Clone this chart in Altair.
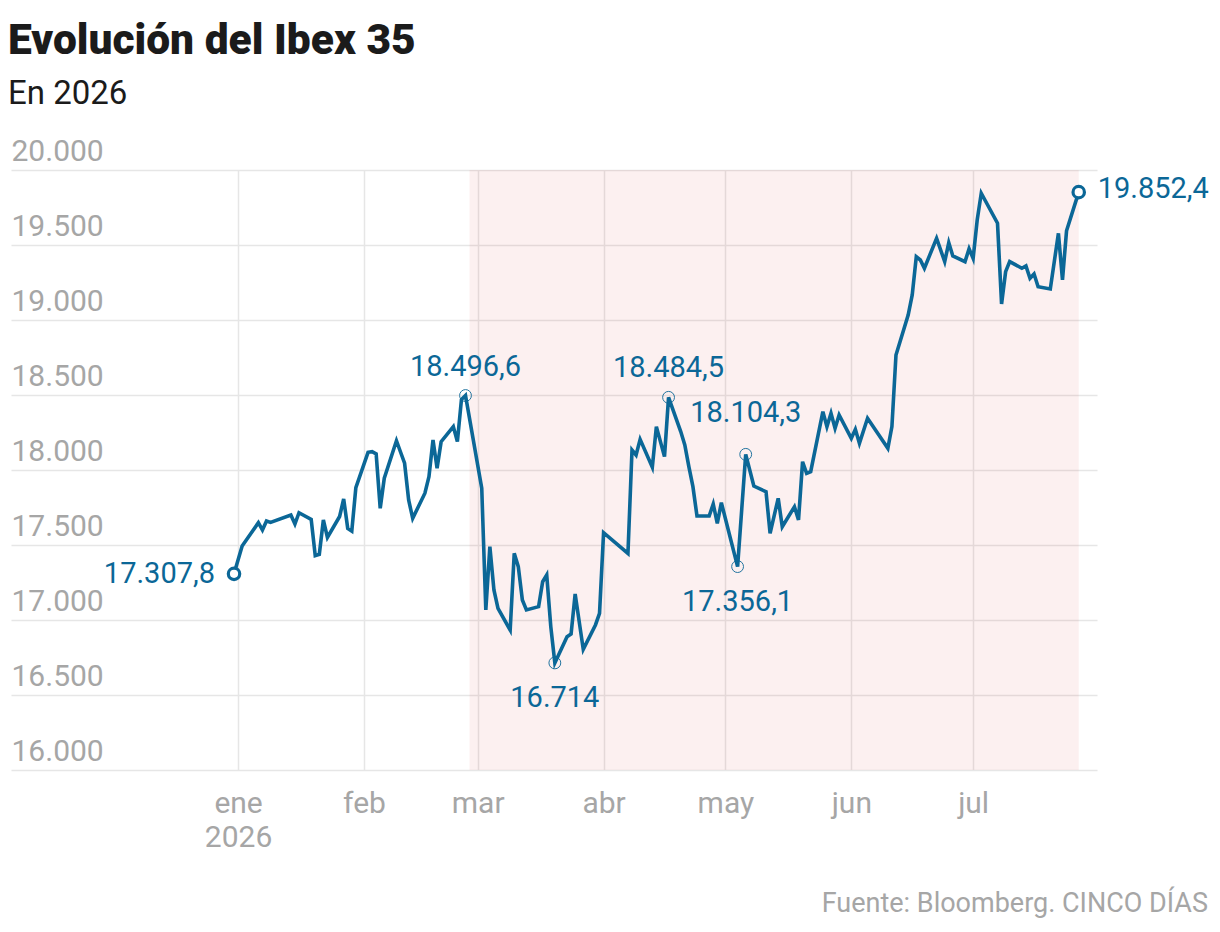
import altair as alt
import pandas as pd

# Ibex 35 daily closes, 2026 (last close of 2025 as the starting point)
dates = [
    "2025-12-31", "2026-01-02", "2026-01-06", "2026-01-07", "2026-01-08", "2026-01-09",
    "2026-01-14", "2026-01-15", "2026-01-16", "2026-01-19", "2026-01-20", "2026-01-21",
    "2026-01-22", "2026-01-23", "2026-01-26", "2026-01-27", "2026-01-28", "2026-01-29",
    "2026-01-30", "2026-02-02", "2026-02-03", "2026-02-04", "2026-02-05", "2026-02-06",
    "2026-02-09", "2026-02-10", "2026-02-11", "2026-02-12", "2026-02-13", "2026-02-16",
    "2026-02-17", "2026-02-18", "2026-02-19", "2026-02-20", "2026-02-23", "2026-02-24",
    "2026-02-25", "2026-02-26", "2026-03-02", "2026-03-03", "2026-03-04", "2026-03-05",
    "2026-03-06", "2026-03-09", "2026-03-10", "2026-03-11", "2026-03-12", "2026-03-13",
    "2026-03-16", "2026-03-17", "2026-03-18", "2026-03-19", "2026-03-20", "2026-03-23",
    "2026-03-24", "2026-03-25", "2026-03-27", "2026-03-30", "2026-03-31", "2026-04-01",
    "2026-04-07", "2026-04-08", "2026-04-09", "2026-04-10", "2026-04-13", "2026-04-14",
    "2026-04-16", "2026-04-17", "2026-04-20", "2026-04-21", "2026-04-22", "2026-04-23",
    "2026-04-24", "2026-04-27", "2026-04-28", "2026-04-29", "2026-04-30", "2026-05-04",
    "2026-05-06", "2026-05-08", "2026-05-11", "2026-05-12", "2026-05-14", "2026-05-15",
    "2026-05-18", "2026-05-19", "2026-05-20", "2026-05-21", "2026-05-22", "2026-05-25",
    "2026-05-26", "2026-05-27", "2026-05-28", "2026-05-29", "2026-06-01", "2026-06-02",
    "2026-06-03", "2026-06-05", "2026-06-10", "2026-06-11", "2026-06-12", "2026-06-15",
    "2026-06-16", "2026-06-17", "2026-06-18", "2026-06-19", "2026-06-22", "2026-06-24",
    "2026-06-25", "2026-06-26", "2026-06-29", "2026-06-30", "2026-07-01", "2026-07-02",
    "2026-07-03", "2026-07-07", "2026-07-08", "2026-07-09", "2026-07-10", "2026-07-13",
    "2026-07-14", "2026-07-15", "2026-07-16", "2026-07-17", "2026-07-20", "2026-07-22",
    "2026-07-23", "2026-07-24", "2026-07-27",
]
closes = [
    17307.8, 17493, 17649, 17600, 17660, 17651,
    17700, 17640, 17715, 17671, 17429, 17438,
    17667, 17551, 17690, 17807, 17611, 17593,
    17882, 18118, 18122, 18107, 17745, 17945,
    18195, 18120, 18045, 17800, 17678, 17845,
    17955, 18200, 18011, 18189, 18289, 18189,
    18470, 18496.6, 17878, 17067, 17489, 17200,
    17078, 16933, 17444, 17356, 17133, 17067,
    17089, 17255, 17300, 16956, 16714, 16889,
    16907, 17173, 16804, 16967, 17044, 17582,
    17444, 18133, 18100, 18204, 18018, 18289,
    18089, 18484.5, 18256, 18167, 18022, 17889,
    17693, 17693, 17773, 17644, 17782, 17356.1,
    18104.3, 17893, 17855, 17578, 17811, 17622,
    17755, 17667, 18055, 17978, 17989, 18389,
    18289, 18378, 18278, 18367, 18211, 18271,
    18178, 18345, 18145, 18289, 18767, 19033,
    19167, 19422, 19400, 19345, 19545, 19389,
    19515, 19427, 19389, 19475, 19411, 19667,
    19845, 19645, 19107, 19322, 19389, 19345,
    19360, 19278, 19307, 19222, 19207, 19578,
    19267, 19595, 19852.4,
]

# Highlighted turning points and where their labels sit
note_dates = ["2026-02-26", "2026-03-20", "2026-04-17", "2026-05-04", "2026-05-06"]
note_places = ["above", "below", "above", "below", "above_far"]

# Shaded period
shade_from = ["2026-02-27"]
shade_to = ["2026-07-27"]

y_ticks = [16000, 16500, 17000, 17500, 18000, 18500, 19000, 19500, 20000]
month_names = ["ene", "feb", "mar", "abr", "may", "jun", "jul", "ago", "sep", "oct", "nov", "dic"]
source_text = "Fuente: Bloomberg. CINCO DÍAS"

BLUE = "#0b6797"
GREY = "#a6a6a6"
GRID = "#e6e6e6"
FONT = "Roboto"


def es_number(v):
    s = f"{v:,.1f}".replace(",", "_").replace(".", ",").replace("_", ".")
    return s[:-2] if s.endswith(",0") else s


series = pd.DataFrame({"fecha": dates, "cierre": closes})
by_date = dict(zip(dates, closes))

notes = pd.DataFrame({
    "fecha": note_dates,
    "cierre": [by_date[d] for d in note_dates],
    "pos": note_places,
})
notes["etiqueta"] = notes["cierre"].map(es_number)

ends = pd.DataFrame({
    "fecha": [dates[0], dates[-1]],
    "cierre": [closes[0], closes[-1]],
    "pos": ["left", "right"],
})
ends["etiqueta"] = ends["cierre"].map(es_number)

shade = pd.DataFrame({"inicio": shade_from, "fin": shade_to,
                      "techo": [y_ticks[-1]], "suelo": [y_ticks[0]]})
source = pd.DataFrame({"t": [source_text]})

month_expr = "[" + ",".join(f"'{m}'" for m in month_names) + "]"
x_label_expr = (
    "utcmonth(datum.value) == 0 ? ['ene', '' + utcyear(datum.value)] : "
    + month_expr + "[utcmonth(datum.value)]"
)

x_scale = alt.Scale(
    type="utc",
    domain=[
        alt.DateTime(year=2025, month=11, date=6, hours=2, utc=True),
        alt.DateTime(year=2026, month=7, date=31, hours=12, utc=True),
    ],
)
x_axis = alt.Axis(
    values=[alt.DateTime(year=2026, month=m, date=1, utc=True) for m in range(1, 8)],
    labelExpr=x_label_expr,
    title=None,
    domain=False,
    ticks=False,
    tickSize=0,
    grid=True,
    gridColor=GRID,
    gridWidth=1.5,
    labelFont=FONT,
    labelFontSize=30,
    labelColor=GREY,
    labelBaseline="alphabetic",
    labelPadding=42,
    labelLineHeight=34,
    labelFlush=False,
    labelOverlap=False,
)
y_scale = alt.Scale(domain=[y_ticks[0], y_ticks[-1]], nice=False, zero=False)
y_axis = alt.Axis(
    values=y_ticks,
    labelExpr="replace(format(datum.value, ','), ',', '.')",
    title=None,
    domain=False,
    ticks=False,
    tickSize=0,
    grid=True,
    gridColor=GRID,
    gridWidth=1.5,
    labelFont=FONT,
    labelFontSize=30,
    labelColor=GREY,
    labelAlign="left",
    labelBaseline="alphabetic",
    labelPadding=0,
    labelOffset=-10,
    labelOverlap=False,
)


def X(field="fecha"):
    return alt.X(f"{field}:T", scale=x_scale, axis=x_axis)


def Y(field="cierre"):
    return alt.Y(f"{field}:Q", scale=y_scale, axis=y_axis)


band = alt.Chart(shade).mark_rect(color="#d33a3a", opacity=0.075).encode(
    x=X("inicio"), x2="fin", y=Y("techo"), y2="suelo"
)

line = alt.Chart(series).mark_line(color=BLUE, strokeWidth=3.6, strokeJoin="miter").encode(
    x=X(), y=Y()
)

note_rings = alt.Chart(notes).mark_point(
    shape="circle", size=140, filled=False, color=BLUE, strokeWidth=1, opacity=0.9
).encode(x=X(), y=Y())

end_rings = alt.Chart(ends).mark_point(
    shape="circle", size=130, filled=True, fill="white", stroke=BLUE, strokeWidth=3.2, opacity=1
).encode(x=X(), y=Y())

text_style = dict(font=FONT, fontSize=29, color=BLUE)


def note_text(data, place, **mark):
    return alt.Chart(data).transform_filter(
        alt.datum.pos == place
    ).mark_text(**text_style, **mark).encode(x=X(), y=Y(), text="etiqueta:N")


labels = [
    note_text(notes, "above", align="center", baseline="alphabetic", dy=-20),
    note_text(notes, "above_far", align="center", baseline="alphabetic", dy=-32),
    note_text(notes, "below", align="center", baseline="alphabetic", dy=44),
    note_text(ends, "left", align="right", baseline="middle", dx=-19, dy=0),
    note_text(ends, "right", align="left", baseline="middle", dx=19, dy=-3),
]

credit = alt.Chart(source).mark_text(
    font=FONT, fontSize=27, color=GREY, align="right", baseline="alphabetic"
).encode(x=alt.value(1197), y=alt.value(742), text="t:N")

chart = alt.layer(band, line, note_rings, end_rings, *labels, credit).properties(
    width=1086,
    height=600,
    autosize="none",
    padding={"left": 11, "top": 170, "right": 123, "bottom": 162},
    background="white",
    title=alt.TitleParams(
        text="Evolución del Ibex 35",
        subtitle="En 2026",
        anchor="start",
        font=FONT,
        fontSize=42.5,
        fontWeight=900,
        color="#1b1b1b",
        subtitleFont=FONT,
        subtitleFontSize=33,
        subtitleColor="#1b1b1b",
        subtitlePadding=16,
        offset=25,
        dx=-3,
    ),
).configure_view(stroke=None)

chart.save("out.html", embed_options={"renderer": "svg", "actions": False})
